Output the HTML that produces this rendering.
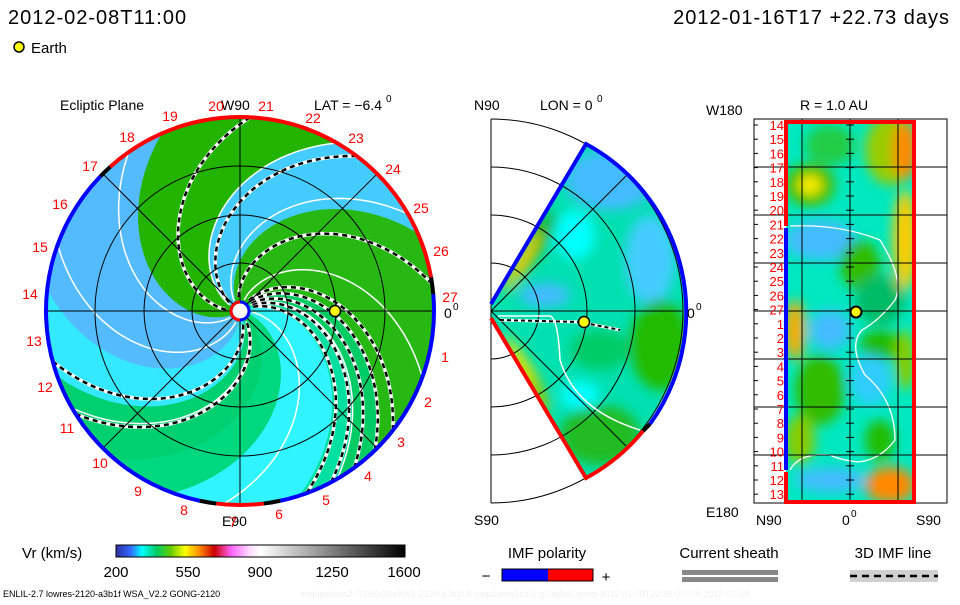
<!DOCTYPE html>
<html><head><meta charset="utf-8"><style>
body{margin:0;background:#fff;width:960px;height:600px;overflow:hidden;font-family:"Liberation Sans",sans-serif}
svg text{font-family:"Liberation Sans",sans-serif}
</style></head><body>
<svg id="s" width="960" height="600" xmlns="http://www.w3.org/2000/svg">
<defs>
<clipPath id="cl"><circle cx="240" cy="311" r="194"/></clipPath>
<clipPath id="cm"><path d="M491,304 L586,144 A191,191 0 0 1 586,478 L491,318 Z"/></clipPath>
<clipPath id="cr"><rect x="786" y="122" width="128" height="380"/></clipPath>
<filter id="bl"><feGaussianBlur stdDeviation="6"/></filter>
<linearGradient id="cb" x1="0" x2="1">
<stop offset="0" stop-color="#3030a0"/><stop offset="0.05" stop-color="#3366ff"/>
<stop offset="0.09" stop-color="#00ffff"/><stop offset="0.14" stop-color="#00cc66"/>
<stop offset="0.19" stop-color="#66cc00"/><stop offset="0.24" stop-color="#ffff00"/>
<stop offset="0.29" stop-color="#ff8800"/><stop offset="0.34" stop-color="#cc0000"/>
<stop offset="0.40" stop-color="#ff66ff"/><stop offset="0.46" stop-color="#ffd8ff"/>
<stop offset="0.50" stop-color="#ffffff"/><stop offset="1" stop-color="#000000"/>
</linearGradient>
</defs>
<text x="8" y="24" font-size="20" letter-spacing="1">2012-02-08T11:00</text>
<text x="950" y="24" font-size="20" text-anchor="end" letter-spacing="1">2012-01-16T17 +22.73 days</text>
<circle cx="19" cy="47" r="5" fill="#ffff00" stroke="#000" stroke-width="1.5"/>
<text x="31" y="53" font-size="15">Earth</text>

<g id="left" clip-path="url(#cl)"></g>
<g id="leftov"></g>

<g id="mid">
<path d="M491,304 L586,144 A191,191 0 0 1 586,478 L491,318 Z" fill="#00e0b0"/>
<g clip-path="url(#cm)" filter="url(#bl)">
<ellipse cx="610" cy="180" rx="45" ry="30" fill="#44bbff"/>
<ellipse cx="650" cy="260" rx="25" ry="45" fill="#44ccff"/>
<ellipse cx="575" cy="235" rx="20" ry="25" fill="#00ffff"/>
<ellipse cx="545" cy="295" rx="25" ry="12" fill="#44bbff"/>
<ellipse cx="660" cy="345" rx="30" ry="45" fill="#22bb00"/>
<ellipse cx="600" cy="435" rx="40" ry="30" fill="#22bb22"/>
<ellipse cx="600" cy="350" rx="30" ry="20" fill="#00cc66"/>
<ellipse cx="580" cy="395" rx="20" ry="14" fill="#00ffff"/>
<ellipse cx="535" cy="245" rx="8" ry="40" fill="#22aa00" transform="rotate(30 535 245)"/>
<ellipse cx="522" cy="262" rx="6" ry="35" fill="#ffcc00" transform="rotate(30 522 262)"/>
<ellipse cx="528" cy="378" rx="9" ry="40" fill="#99cc00" transform="rotate(-30 528 378)"/>
<ellipse cx="520" cy="360" rx="4" ry="30" fill="#ffee00" transform="rotate(-30 520 360)"/>
</g>
</g>
<g fill="none" stroke="#000" stroke-width="1">
<path d="M491,263 A48,48 0 0 1 491,359"/><path d="M491,215 A96,96 0 0 1 491,407"/>
<path d="M491,167 A144,144 0 0 1 491,455"/><path d="M491,119 A192,192 0 0 1 491,503"/>
<line x1="491" y1="119" x2="491" y2="503"/><line x1="491" y1="311" x2="682" y2="311"/>
<line x1="491" y1="311" x2="626" y2="176"/><line x1="491" y1="311" x2="626" y2="446"/>
</g>
<path d="M498,316 L550,316 Q558,318 560,360 Q575,410 640,430" fill="none" stroke="#fff" stroke-width="1.5"/>
<path d="M500,320 L580,322 L620,330" fill="none" stroke="#fff" stroke-width="3"/>
<path d="M500,320 L580,322 L620,330" fill="none" stroke="#000" stroke-width="2" stroke-dasharray="4 3"/>
<path d="M491,304 L586,144 A191,191 0 0 1 650,424" fill="none" stroke="#0000ff" stroke-width="4"/>
<path d="M650,424 A191,191 0 0 1 643,431" fill="none" stroke="#000" stroke-width="4"/>
<path d="M643,431 A191,191 0 0 1 586,478 L491,318" fill="none" stroke="#ff0000" stroke-width="4"/>
<circle cx="584" cy="322" r="5.5" fill="#ffff00" stroke="#000" stroke-width="1.5"/>
<text x="474" y="110" font-size="14">N90</text>
<text x="540" y="110" font-size="14">LON = 0</text><text x="597" y="102" font-size="10">0</text>
<text x="474" y="525" font-size="14">S90</text>
<text x="687" y="318" font-size="14">0</text><text x="696" y="310" font-size="10">0</text>

<g id="right">
<rect x="786" y="122" width="128" height="380" fill="#00e8c0"/>
<g clip-path="url(#cr)" filter="url(#bl)">
<ellipse cx="890" cy="150" rx="25" ry="35" fill="#99cc00"/>
<ellipse cx="905" cy="150" rx="12" ry="30" fill="#ff8800"/>
<ellipse cx="810" cy="185" rx="25" ry="22" fill="#44bb00"/>
<ellipse cx="810" cy="185" rx="12" ry="10" fill="#ffee00"/>
<ellipse cx="830" cy="145" rx="25" ry="20" fill="#22cc44"/>
<ellipse cx="905" cy="240" rx="12" ry="50" fill="#ffcc00"/>
<ellipse cx="820" cy="240" rx="35" ry="20" fill="#44bbff"/>
<ellipse cx="860" cy="265" rx="20" ry="25" fill="#33bb00"/>
<ellipse cx="880" cy="300" rx="25" ry="25" fill="#00bb66"/>
<ellipse cx="795" cy="330" rx="10" ry="30" fill="#ffaa00"/>
<ellipse cx="830" cy="330" rx="20" ry="20" fill="#44bbff"/>
<ellipse cx="880" cy="345" rx="20" ry="15" fill="#22bb00"/>
<ellipse cx="820" cy="390" rx="25" ry="35" fill="#33bb00"/>
<ellipse cx="870" cy="380" rx="20" ry="25" fill="#33ccff"/>
<ellipse cx="905" cy="360" rx="10" ry="30" fill="#88cc00"/>
<ellipse cx="800" cy="440" rx="15" ry="25" fill="#88cc00"/>
<ellipse cx="880" cy="440" rx="15" ry="20" fill="#22bb00"/>
<ellipse cx="830" cy="480" rx="35" ry="12" fill="#44bbff"/>
<ellipse cx="890" cy="485" rx="25" ry="18" fill="#ff8800"/>
</g>
<path d="M790,226 Q840,224 880,240 Q905,280 895,300 Q880,320 862,330 Q848,345 865,375 Q895,400 895,440 Q880,460 858,462 Q840,460 830,455 Q800,452 790,470" fill="none" stroke="#fff" stroke-width="1.3"/>
</g>
<g id="rgrid" stroke="#000" stroke-width="1"></g>
<rect x="754" y="119" width="193" height="384" fill="none" stroke="#000"/>
<path d="M786,226 V122 H914 V502 H786 V472" fill="none" stroke="#ff0000" stroke-width="4"/>
<line x1="786" y1="228" x2="786" y2="470" stroke="#0000ff" stroke-width="4"/>
<circle cx="856" cy="312" r="5.5" fill="#ffff00" stroke="#000" stroke-width="2"/>
<text x="800" y="110" font-size="14">R = 1.0 AU</text>
<text x="706" y="115" font-size="14">W180</text>
<text x="706" y="517" font-size="14">E180</text>
<text x="756" y="525" font-size="14">N90</text>
<text x="842" y="525" font-size="14">0</text><text x="851" y="517" font-size="10">0</text>
<text x="916" y="525" font-size="14">S90</text>
<g id="rlab" font-size="13" fill="#ff0000" text-anchor="end"></g>

<text x="22" y="558" font-size="15">Vr (km/s)</text>
<rect x="116" y="545" width="289" height="12" fill="url(#cb)" stroke="#000"/>
<g font-size="15" text-anchor="middle"><text x="116" y="577">200</text><text x="188" y="577">550</text><text x="260" y="577">900</text><text x="332" y="577">1250</text><text x="404" y="577">1600</text></g>
<text x="547" y="558" font-size="15" text-anchor="middle">IMF polarity</text>
<text x="486" y="581" font-size="15" text-anchor="middle">−</text>
<rect x="502" y="569" width="46" height="12" fill="#0000ff"/><rect x="548" y="569" width="45" height="12" fill="#ff0000"/>
<rect x="502" y="569" width="91" height="12" fill="none" stroke="#000"/>
<text x="606" y="582" font-size="15" text-anchor="middle">+</text>
<text x="729" y="558" font-size="15" text-anchor="middle">Current sheath</text>
<rect x="682" y="570" width="96" height="5" fill="#888"/><rect x="682" y="577" width="96" height="5" fill="#888"/>
<text x="893" y="558" font-size="15" text-anchor="middle">3D IMF line</text>
<rect x="850" y="570" width="88" height="12" fill="#d0d0d0"/>
<line x1="850" y1="576" x2="938" y2="576" stroke="#000" stroke-width="2.5" stroke-dasharray="7 5"/>
<text x="3" y="597" font-size="9">ENLIL-2.7 lowres-2120-a3b1f WSA_V2.2 GONG-2120</text>
<text x="300" y="597" font-size="9" fill="#f0f0f0">amples/wsa2.7/256x30x90x1.2120-a3b1f.8-mcp1umn1cd-1.g53q5d2.gong-2012:01:09T22:35:00T00   2012-02-08</text>

<g font-size="14"><text x="60" y="110">Ecliptic Plane</text><text x="221" y="110">W90</text>
<text x="314" y="110">LAT = −6.4</text><text x="386" y="102" font-size="10">0</text>
<text x="222" y="526">E90</text>
<text x="444" y="318">0</text><text x="453" y="310" font-size="10">0</text></g>
<g id="nums" font-size="14" fill="#ff0000" text-anchor="middle"></g>
</svg>
<script>
const NS="http://www.w3.org/2000/svg";
function el(p,t,a){const e=document.createElementNS(NS,t);for(const k in a)e.setAttribute(k,a[k]);p.appendChild(e);return e;}
const cx=240,cy=311,R=194,K=1.75;
function sp(p0,r){const a=p0+K*Math.pow(r/R,0.8);return [cx+r*Math.cos(a),cy+r*Math.sin(a)];}
function col(o){o=((o%360)+360)%360;
const m=[[45,"#28b814"],[60,"#00cc66"],[72,"#00e0a0"],[110,"#30f4ff"],[130,"#00d880"],[160,"#00d070"],[185,"#33e8ff"],[245,"#55bbff"],[300,"#22b400"],[335,"#44ccff"],[360,"#28b814"]];
for(const [l,c] of m) if(o<l) return c; return "#28b814";}
const L=document.getElementById("left");
el(L,"circle",{cx:cx,cy:cy,r:R,fill:"#28b814"});
const kd=K*180/Math.PI;
for(let d=0;d<360;d+=2){
 let pts=[];const p0=d*Math.PI/180,p1=(d+2.3)*Math.PI/180;
 for(let r=0;r<=R+30;r+=6)pts.push(sp(p0,r));
 for(let r=R+30;r>=0;r-=6)pts.push(sp(p1,r));
 el(L,"polygon",{points:pts.map(p=>p.join(",")).join(" "),fill:col(d+kd)});
}
function spath(d,r0){let s="";const p0=d*Math.PI/180;for(let r=r0;r<=R+4;r+=3){const p=sp(p0,r);s+=(s?"L":"M")+p[0].toFixed(1)+","+p[1].toFixed(1);}return s;}
const whites=[200,235,300,330,20,60,95,150];
for(const o of whites) el(L,"path",{d:spath(o-kd,12),fill:"none",stroke:"#fff","stroke-width":1.5});
const dashed=[273,307,352,38,46,54,62,70,148,165];
for(const o of dashed){const d=spath(o-kd,14);el(L,"path",{d:d,fill:"none",stroke:"#fff","stroke-width":3.5});el(L,"path",{d:d,fill:"none",stroke:"#000","stroke-width":2.5,"stroke-dasharray":"5 4"});}
const O=document.getElementById("leftov");
for(const r of [48,96,145]) el(O,"circle",{cx:cx,cy:cy,r:r,fill:"none",stroke:"#000","stroke-width":1});
el(O,"line",{x1:cx-R,y1:cy,x2:cx+R,y2:cy,stroke:"#000"});el(O,"line",{x1:cx,y1:cy-R,x2:cx,y2:cy+R,stroke:"#000"});
const q=R*0.7071;el(O,"line",{x1:cx-q,y1:cy-q,x2:cx+q,y2:cy+q,stroke:"#000"});el(O,"line",{x1:cx-q,y1:cy+q,x2:cx+q,y2:cy-q,stroke:"#000"});
function arc(a0,a1,c,w){const r=R;const A=a=>[cx+r*Math.cos(a*Math.PI/180),cy+r*Math.sin(a*Math.PI/180)];const p=A(a0),q2=A(a1);el(O,"path",{d:`M${p} A${r},${r} 0 ${(a1-a0)>180?1:0} 1 ${q2}`,fill:"none",stroke:c,"stroke-width":w});}
arc(-5,78,"#0000ff",4);arc(78,83,"#000",4);arc(83,97,"#ff0000",4);arc(97,102,"#000",4);arc(102,224,"#0000ff",4);arc(224,228,"#000",4);arc(228,350,"#ff0000",4);arc(350,355,"#000",4);
el(O,"circle",{cx:cx,cy:cy,r:9,fill:"#fff",stroke:"#0000ff","stroke-width":3});
el(O,"path",{d:`M${cx},${cy-9} A9,9 0 0 0 ${cx},${cy+9}`,fill:"none",stroke:"#ff0000","stroke-width":3});
el(O,"circle",{cx:335,cy:311,r:5.5,fill:"#ffff00",stroke:"#000","stroke-width":1.5});
const N=document.getElementById("nums");
const np=[[27,450,302],[1,445,362],[2,428,407],[3,401,447],[4,368,481],[5,326,505],[6,279,519],[7,233,527],[8,184,515],[9,138,496],[10,100,468],[11,67,433],[12,45,392],[13,34,346],[14,30,299],[15,40,252],[16,60,209],[17,90,171],[18,127,142],[19,170,121],[20,216,111],[21,266,111],[22,313,123],[23,356,143],[24,393,174],[25,421,213],[26,441,256]];
for(const [n,x,y] of np){const t=el(N,"text",{x:x,y:y});t.textContent=n;}
const G=document.getElementById("rgrid");
for(const y of [167,215,263,311,359,407,455]) el(G,"line",{x1:754,y1:y,x2:947,y2:y});
for(const x of [802,850,898]) el(G,"line",{x1:x,y1:119,x2:x,y2:503});
const RL=document.getElementById("rlab");
const lab=[14,15,16,17,18,19,20,21,22,23,24,25,26,27,1,2,3,4,5,6,7,8,9,10,11,12,13];
lab.forEach((n,i)=>{const y=125+i*14.2;el(G,"line",{x1:846,y1:y,x2:854,y2:y});el(G,"line",{x1:754,y1:y,x2:758,y2:y});const t=el(RL,"text",{x:784,y:y+5});t.textContent=n;});
</script>
</body></html>
